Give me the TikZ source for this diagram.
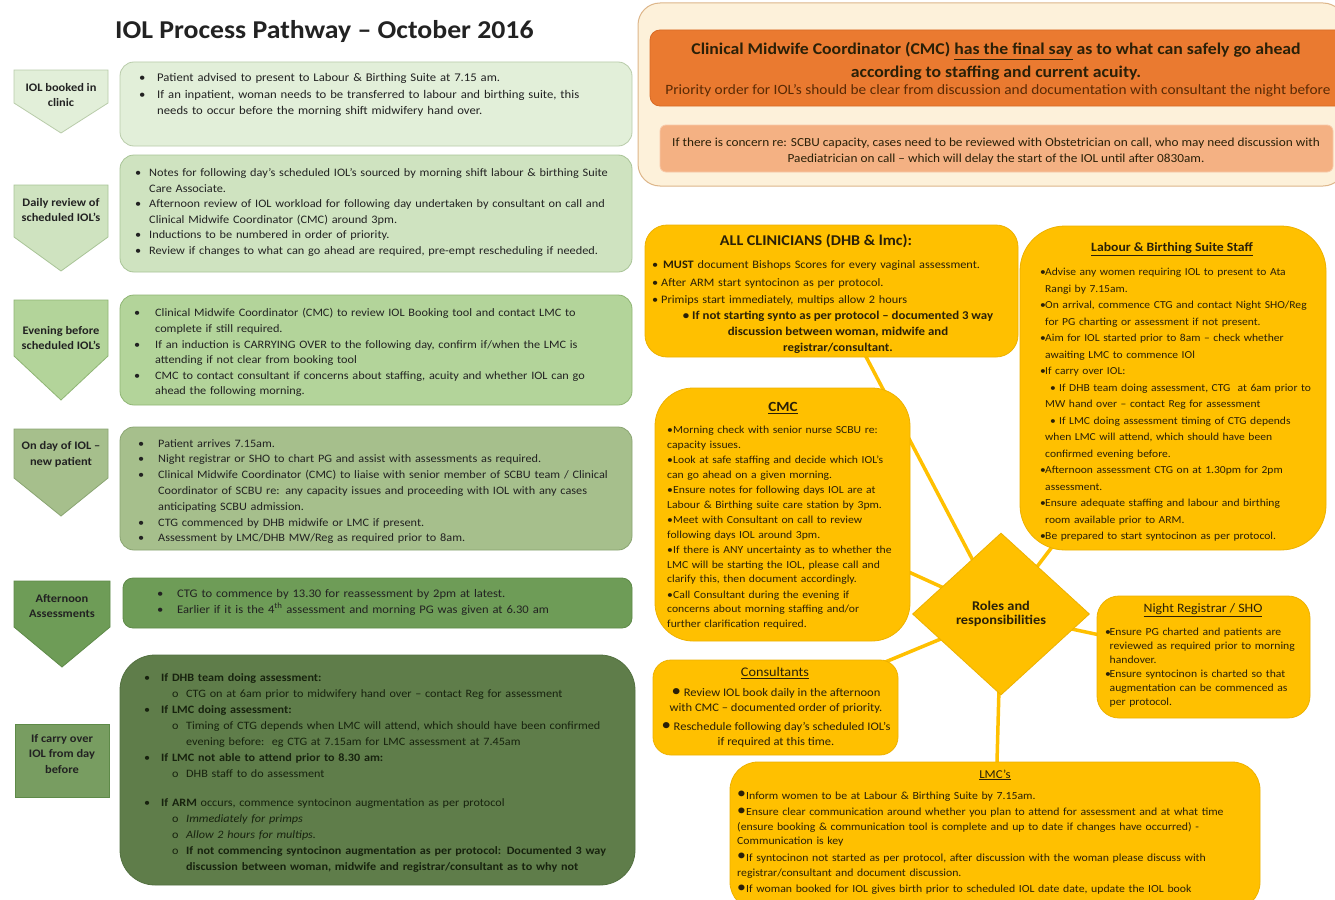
\documentclass[tikz,border=0pt]{standalone}
\usepackage{fontspec}
\setmainfont{Carlito}[FakeStretch=1.08]
\usepackage{graphicx}
\usetikzlibrary{shapes.geometric,backgrounds}
\definecolor{g1}{HTML}{E2EFD9}
\definecolor{g1d}{HTML}{B9CCAA}
\definecolor{g2}{HTML}{CFE3C0}
\definecolor{g2d}{HTML}{A9C497}
\definecolor{g3}{HTML}{B3D49A}
\definecolor{g3d}{HTML}{8FB574}
\definecolor{g4}{HTML}{A6BF8C}
\definecolor{g4d}{HTML}{8AA572}
\definecolor{g5}{HTML}{6E9C57}
\definecolor{g5d}{HTML}{5E8A48}
\definecolor{g6}{HTML}{5F7D4A}
\definecolor{g6d}{HTML}{52703F}
\definecolor{g6l}{HTML}{789D61}
\definecolor{yel}{HTML}{FFC000}
\definecolor{yeld}{HTML}{EDB100}
\definecolor{cream}{HTML}{FDF1DA}
\definecolor{creamd}{HTML}{DDB68A}
\definecolor{orng}{HTML}{EA7A30}
\definecolor{orngd}{HTML}{D86A25}
\definecolor{salm}{HTML}{F4B183}
\definecolor{salmd}{HTML}{F8C9A8}
\definecolor{ink}{HTML}{222222}
\definecolor{gink}{HTML}{17220E}
\definecolor{yink}{HTML}{2A2008}
\definecolor{brn}{HTML}{5A2A05}
\newcommand\itm[3]{\par\noindent\hangindent=#2\hangafter=1\makebox[#2][l]{\hspace*{#1}#3}\ignorespaces}
\newcommand\sitm[4]{\par\noindent\hangindent=#3\hangafter=1\hspace*{#1}\makebox[#2][l]{#4}\ignorespaces}
\newcommand\bigbul{\raisebox{0.05ex}{\scalebox{1.5}{\textbullet}}}
\newcommand\nl{\newline}
\begin{document}
\begin{tikzpicture}[x=1pt,y=-1pt,
  gbox/.style={rectangle, rounded corners=14pt, line width=0.8pt, inner sep=0pt},
  ybox/.style={rectangle, draw=yeld, fill=yel, line width=0.8pt, inner sep=0pt},
  lbl/.style={font=\bfseries\fontsize{11.5}{15.8}\selectfont, align=center, text=ink, inner sep=0pt},
  body/.style={anchor=north west, inner sep=0pt, align=left, text width=#1},
  ytitle/.style={font=\bfseries\fontsize{12.7}{14}\selectfont, text=yink, inner sep=0pt},
  conn/.style={draw=yel, line width=3.5pt},
  arrowshape/.style={line width=0.8pt}]
\useasboundingbox (0,0) rectangle (1335,899);

% ---------- title ----------
\node[font=\bfseries\fontsize{25.7}{29}\selectfont, text=ink, anchor=west, inner sep=0pt] (title) at (115,32) {IOL Process Pathway – October 2016};

% ---------- left labels ----------
\draw[arrowshape, draw=g1d, fill=g1] (14,70) -- (108,70) -- (108,103) -- (61,133) -- (14,103) -- cycle;
\node[lbl] (l1) at (61,95) {IOL booked in\\clinic};
\draw[arrowshape, draw=g2d, fill=g2] (14,185) -- (108,185) -- (108,237) -- (61,271) -- (14,237) -- cycle;
\node[lbl] (l2) at (61,210) {Daily review of\\scheduled IOL's};
\draw[arrowshape, draw=g3d, fill=g3] (14,300) -- (108,300) -- (108,356) -- (61,400) -- (14,356) -- cycle;
\node[lbl] (l3) at (61,338) {Evening before\\scheduled IOL's};
\draw[arrowshape, draw=g4d, fill=g4] (14,429) -- (108,429) -- (108,478) -- (61,516) -- (14,478) -- cycle;
\node[lbl] (l4) at (61,454) {On day of IOL –\\new patient};
\draw[arrowshape, draw=g5d, fill=g5] (14,581) -- (110,581) -- (110,627) -- (62,667) -- (14,627) -- cycle;
\node[lbl] (l5) at (62,606) {Afternoon\\Assessments};
\node[rectangle, draw=g5d, fill=g6l, line width=0.8pt, minimum width=94pt, minimum height=73pt, inner sep=0pt] (l6box) at (62,761) {};
\node[lbl] (l6) at (62,754) {If carry over\\IOL from day\\before};

% ---------- left boxes ----------
\node[gbox, draw=g1d, fill=g1, minimum width=512pt, minimum height=84pt] (b1) at (376,104) {};
\node[gbox, draw=g2d, fill=g2, minimum width=512pt, minimum height=117pt] (b2) at (376,213.5) {};
\node[gbox, draw=g3d, fill=g3, minimum width=512pt, minimum height=110pt] (b3) at (376,350) {};
\node[gbox, draw=g4d, fill=g4, minimum width=512pt, minimum height=123pt] (b4) at (376,488.5) {};
\node[gbox, rounded corners=10pt, draw=g5d, fill=g5, minimum width=509pt, minimum height=50pt] (b5) at (377.5,603) {};
\node[gbox, rounded corners=35pt, draw=g6d, fill=g6, minimum width=515pt, minimum height=230pt] (b6) at (377.5,770) {};

\node[body=505pt, font=\fontsize{11.75}{16.5}\selectfont, text=ink] (t1) at (120,65) {%
\itm{19pt}{37pt}{\textbullet}Patient advised to present to Labour \& Birthing Suite at 7.15 am.
\itm{19pt}{37pt}{\textbullet}If an inpatient, woman needs to be transferred to labour and birthing suite, this\nl needs to occur before the morning shift midwifery hand over.\par};

\node[body=505pt, font=\fontsize{11.4}{15.5}\selectfont, text=ink] (t2) at (120,161) {%
\itm{15pt}{29pt}{\textbullet}Notes for following day's scheduled IOL's sourced by morning shift labour \& birthing Suite\nl Care Associate.
\itm{15pt}{29pt}{\textbullet}Afternoon review of IOL workload for following day undertaken by consultant on call and\nl Clinical Midwife Coordinator (CMC) around 3pm.
\itm{15pt}{29pt}{\textbullet}Inductions to be numbered in order of priority.
\itm{15pt}{29pt}{\textbullet}Review if changes to what can go ahead are required, pre-empt rescheduling if needed.\par};

\node[body=505pt, font=\fontsize{11.35}{15.6}\selectfont, text=ink] (t3) at (120,301) {%
\itm{14pt}{35pt}{\textbullet}Clinical Midwife Coordinator (CMC) to review IOL Booking tool and contact LMC to\nl complete if still required.
\itm{14pt}{35pt}{\textbullet}If an induction is CARRYING OVER to the following day, confirm if/when the LMC is\nl attending if not clear from booking tool
\itm{14pt}{35pt}{\textbullet}CMC to contact consultant if concerns about staffing, acuity and whether IOL can go\nl ahead the following morning.\par};

\node[body=505pt, font=\fontsize{11.35}{15.8}\selectfont, text=ink] (t4) at (120,431) {%
\itm{18pt}{38pt}{\textbullet}Patient arrives 7.15am.
\itm{18pt}{38pt}{\textbullet}Night registrar or SHO to chart PG and assist with assessments as required.
\itm{18pt}{38pt}{\textbullet}Clinical Midwife Coordinator (CMC) to liaise with senior member of SCBU team / Clinical\nl Coordinator of SCBU re: any capacity issues and proceeding with IOL with any cases\nl anticipating SCBU admission.
\itm{18pt}{38pt}{\textbullet}CTG commenced by DHB midwife or LMC if present.
\itm{18pt}{38pt}{\textbullet}Assessment by LMC/DHB MW/Reg as required prior to 8am.\par};

\node[body=505pt, font=\fontsize{11.65}{16}\selectfont, text=ink] (t5) at (120,581) {%
\itm{37pt}{57pt}{\textbullet}CTG to commence by 13.30 for reassessment by 2pm at latest.
\itm{37pt}{57pt}{\textbullet}Earlier if it is the 4\textsuperscript{th} assessment and morning PG was given at 6.30 am\par};

\node[body=505pt, font=\fontsize{11.27}{16}\selectfont, text=gink] (t6) at (120,665) {%
\itm{24pt}{41pt}{\textbullet}\textbf{If DHB team doing assessment:}
\sitm{52pt}{14pt}{66pt}{o}CTG on at 6am prior to midwifery hand over – contact Reg for assessment
\itm{24pt}{41pt}{\textbullet}\textbf{If LMC doing assessment:}
\sitm{52pt}{14pt}{66pt}{o} Timing of CTG depends when LMC will attend, which should have been confirmed\nl evening before:\ \ eg CTG at 7.15am for LMC assessment at 7.45am
\itm{24pt}{41pt}{\textbullet}\textbf{If LMC not able to attend prior to 8.30 am:}
\sitm{52pt}{14pt}{66pt}{o}DHB staff to do assessment
\par\vspace{13pt}
\itm{24pt}{41pt}{\textbullet}\textbf{If ARM} occurs, commence syntocinon augmentation as per protocol
\sitm{52pt}{14pt}{66pt}{o}\textit{Immediately for primps}
\sitm{52pt}{14pt}{66pt}{o}\textit{Allow 2 hours for multips.}
\sitm{52pt}{14pt}{66pt}{o}\textbf{If not commencing syntocinon augmentation as per protocol: Documented 3 way\nl discussion between woman, midwife and registrar/consultant as to why not}\par};

% ---------- right header ----------
\node[rectangle, rounded corners=22pt, draw=creamd, fill=cream, line width=1pt, minimum width=707pt, minimum height=183pt, inner sep=0pt] (hdr) at (991.5,94.5) {};
\node[rectangle, rounded corners=10pt, draw=orngd, fill=orng, line width=0.8pt, minimum width=695pt, minimum height=76pt, inner sep=0pt] (org) at (997.5,68) {};
\node[font=\bfseries\fontsize{16.4}{18}\selectfont, text=yink, inner sep=0pt] (o1) at (996,51) {Clinical Midwife Coordinator (CMC) \underline{has the final say} as to what can safely go ahead};
\node[font=\bfseries\fontsize{16.4}{18}\selectfont, text=yink, inner sep=0pt] (o2) at (996,73) {according to staffing and current acuity.};
\node[font=\fontsize{14.2}{16}\selectfont, text=brn, inner sep=0pt] (o3) at (998,91) {Priority order for IOL's should be clear from discussion and documentation with consultant the night before};
\node[rectangle, rounded corners=6pt, draw=salmd, fill=salm, line width=0.8pt, minimum width=673pt, minimum height=47pt, inner sep=0pt] (slm) at (996.5,148.5) {};
\node[font=\fontsize{12.3}{16}\selectfont, text=yink, align=center, inner sep=0pt] (s1) at (996,151) {If there is concern re: SCBU capacity, cases need to be reviewed with Obstetrician on call, who may need discussion with\\Paediatrician on call – which will delay the start of the IOL until after 0830am.};

% ---------- yellow boxes ----------
\node[ybox, rounded corners=22pt, minimum width=373pt, minimum height=132pt] (all) at (831.5,291) {};
\node[ytitle, font=\bfseries\fontsize{14.9}{16}\selectfont] (allh) at (816,241) {ALL CLINICIANS (DHB \& lmc):};
\node[body=365pt, font=\fontsize{11.4}{17.5}\selectfont, text=yink] (allb) at (652,251) {%
\sitm{0pt}{11pt}{0pt}{\textbullet}\textbf{MUST} document Bishops Scores for every vaginal assessment.
\sitm{0pt}{9pt}{0pt}{\textbullet}After ARM start syntocinon as per protocol.
\sitm{0pt}{9pt}{0pt}{\textbullet}Primips start immediately, multips allow 2 hours\par};
\node[font=\bfseries\fontsize{11.9}{16}\selectfont, text=yink, align=center, anchor=north, inner sep=0pt] (allc) at (838,311) {\textbullet\ If not starting synto as per protocol – documented 3 way\\discussion between woman, midwife and\\registrar/consultant.};

\node[ybox, rounded corners=45pt, minimum width=306pt, minimum height=324pt] (lab) at (1173,388) {};
\node[ytitle] (labh) at (1172,249) {\underline{Labour \& Birthing Suite Staff}};
\node[body=285pt, font=\fontsize{10.7}{16.5}\selectfont, text=yink] (labb) at (1040,259) {%
\itm{0pt}{5pt}{\textbullet}Advise any women requiring IOL to present to Ata\nl Rangi by 7.15am.
\itm{0pt}{5pt}{\textbullet}On arrival, commence CTG and contact Night SHO/Reg\nl for PG charting or assessment if not present.
\itm{0pt}{5pt}{\textbullet}Aim for IOL started prior to 8am – check whether\nl awaiting LMC to commence IOl
\itm{0pt}{5pt}{\textbullet}If carry over IOL:
\sitm{10pt}{9pt}{5pt}{\textbullet}If DHB team doing assessment, CTG\ \ at 6am prior to\nl MW hand over – contact Reg for assessment
\sitm{10pt}{9pt}{5pt}{\textbullet}If LMC doing assessment timing of CTG depends\nl when LMC will attend, which should have been\nl confirmed evening before.
\itm{0pt}{5pt}{\textbullet}Afternoon assessment CTG on at 1.30pm for 2pm\nl assessment.
\itm{0pt}{5pt}{\textbullet}Ensure adequate staffing and labour and birthing\nl room available prior to ARM.
\itm{0pt}{5pt}{\textbullet}Be prepared to start syntocinon as per protocol.\par};

\node[ybox, rounded corners=38pt, minimum width=255pt, minimum height=253pt] (cmc) at (782.5,514.5) {};
\node[ytitle, font=\bfseries\fontsize{14}{15}\selectfont] (cmch) at (783,408) {\underline{CMC}};
\node[body=242pt, font=\fontsize{10.8}{14.4}\selectfont\setlength{\parskip}{1.2pt}, text=yink] (cmcb) at (667,418) {%
\sitm{0pt}{6pt}{0pt}{\textbullet}Morning check with senior nurse SCBU re:\nl capacity issues.
\sitm{0pt}{6pt}{0pt}{\textbullet}Look at safe staffing and decide which IOL's\nl can go ahead on a given morning.
\sitm{0pt}{6pt}{0pt}{\textbullet}Ensure notes for following days IOL are at\nl Labour \& Birthing suite care station by 3pm.
\sitm{0pt}{6pt}{0pt}{\textbullet}Meet with Consultant on call to review\nl following days IOL around 3pm.
\sitm{0pt}{6pt}{0pt}{\textbullet}If there is ANY uncertainty as to whether the\nl LMC will be starting the IOL, please call and\nl clarify this, then document accordingly.
\sitm{0pt}{6pt}{0pt}{\textbullet}Call Consultant during the evening if\nl concerns about morning staffing and/or\nl further clarification required.\par};

\node[diamond, draw=yeld, fill=yel, line width=0.8pt, minimum width=177pt, minimum height=162pt, inner sep=0pt, font=\bfseries\fontsize{13.3}{14.5}\selectfont, text=yink, align=center] (dia) at (1001,614) {Roles and\\responsibilities};

\node[ybox, rounded corners=22pt, minimum width=213pt, minimum height=122pt] (ngt) at (1203.5,657) {};
\node[ytitle, font=\fontsize{12.8}{14}\selectfont] (ngth) at (1203,610) {\underline{Night Registrar / SHO}};
\node[body=203pt, font=\fontsize{10.8}{14}\selectfont, text=yink] (ngtb) at (1105,621) {%
\itm{0pt}{4.5pt}{\textbullet}Ensure PG charted and patients are\nl reviewed as required prior to morning\nl handover.
\itm{0pt}{4.5pt}{\textbullet}Ensure syntocinon is charted so that\nl augmentation can be commenced as\nl per protocol.\par};

\node[ybox, rounded corners=18pt, minimum width=245pt, minimum height=95pt] (cns) at (775.5,707.5) {};
\node[ytitle, font=\fontsize{13.2}{14}\selectfont] (cnsh) at (775,673) {\underline{Consultants}};
\node[font=\fontsize{11.6}{15.5}\selectfont, text=yink, align=center, anchor=north, inner sep=0pt] (cnsb) at (776,688) {\bigbul\ Review IOL book daily in the afternoon\\with CMC – documented order of priority.\\[3pt]\bigbul\ Reschedule following day's scheduled IOL's\\if required at this time.};

\node[ybox, rounded corners=28pt, minimum width=530pt, minimum height=148pt] (lmc) at (995,836) {};
\node[ytitle, font=\fontsize{12}{14}\selectfont] (lmch) at (995,775) {\underline{LMC's}};
\node[body=522pt, font=\fontsize{10.9}{14.8}\selectfont, text=yink] (lmcb) at (737,784) {%
\sitm{0pt}{9pt}{0pt}{\bigbul}Inform women to be at Labour \& Birthing Suite by 7.15am.
\par\vspace{1.5pt}
\sitm{0pt}{9pt}{0pt}{\bigbul}Ensure clear communication around whether you plan to attend for assessment and at what time\nl (ensure booking \& communication tool is complete and up to date if changes have occurred) -\nl Communication is key
\par\vspace{1.5pt}
\sitm{0pt}{9pt}{0pt}{\bigbul}If syntocinon not started as per protocol, after discussion with the woman please discuss with\nl registrar/consultant and document discussion.
\par\vspace{1.5pt}
\sitm{0pt}{9pt}{0pt}{\bigbul}If woman booked for IOL gives birth prior to scheduled IOL date date, update the IOL book\par};

% ---------- connectors (behind) ----------
\begin{scope}[on background layer]
\fill[white] (0,0) rectangle (1335,899);
\draw[conn] (dia.center) -- (all.center);
\draw[conn] (dia.center) -- (lab.center);
\draw[conn] (dia.center) -- (cmc.center);
\draw[conn] (dia.center) -- (ngt.center);
\draw[conn] (dia.center) -- (cns.center);
\draw[conn] (dia.center) -- (lmc.center);
\end{scope}
\end{tikzpicture}
\end{document}
